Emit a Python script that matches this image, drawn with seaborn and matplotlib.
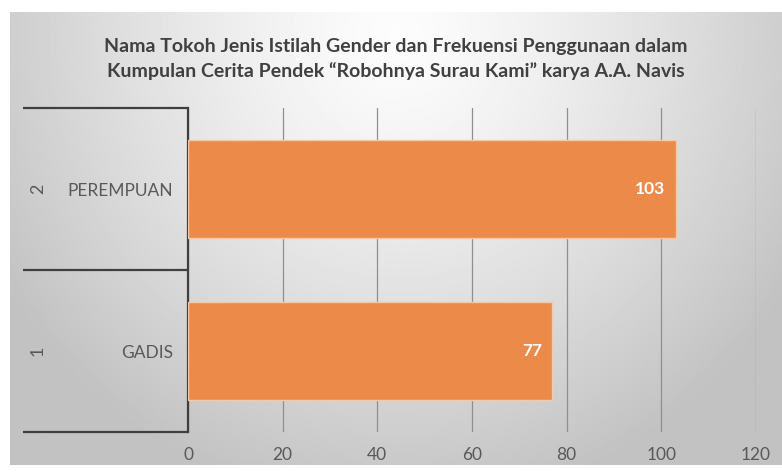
import numpy as np
import pandas as pd
import matplotlib
matplotlib.use("Agg")
import matplotlib.pyplot as plt
import seaborn as sns

categories = ["PEREMPUAN", "GADIS"]
outer_labels = ["2", "1"]
values = [103, 77]
xticks = [0, 20, 40, 60, 80, 100, 120]
title = ("Nama Tokoh Jenis Istilah Gender dan Frekuensi Penggunaan dalam\n"
         "Kumpulan Cerita Pendek \u201cRobohnya Surau Kami\u201d karya A.A. Navis")

sns.set_theme(style="white")
plt.rcParams["font.family"] = ["Lato", "DejaVu Sans"]

W, H = 782, 475
fig = plt.figure(figsize=(W / 100, H / 100), dpi=100)
fig.patch.set_facecolor("white")

# background gradient panel
bx0, by0, bx1, by1 = 10, 12, 782, 465
bg = fig.add_axes([bx0 / W, (H - by1) / H, (bx1 - bx0) / W, (by1 - by0) / H], zorder=-5)
ny, nx = 300, 500
yy, xx = np.mgrid[0:ny, 0:nx]
cx, cy = nx * 0.5, ny * 0.05
d = np.sqrt(((xx - cx) / (nx * 0.6)) ** 2 + ((yy - cy) / (ny * 1.05)) ** 2)
d = np.clip(d, 0, 1)
light, dark = 0.99, 0.76
img = light - (light - dark) * d ** 1.3
bg.imshow(img, cmap="gray", vmin=0, vmax=1, aspect="auto", extent=[0, 1, 0, 1], origin="upper")
bg.axis("off")

# main axes
ax_l, ax_r, ax_t, ax_b = 188, 756, 108, 432
ax = fig.add_axes([ax_l / W, (H - ax_b) / H, (ax_r - ax_l) / W, (ax_b - ax_t) / H])
ax.set_facecolor("none")

df = pd.DataFrame({"cat": categories, "val": values})
sns.barplot(data=df, x="val", y="cat", orient="h", color="#EC8A4A", saturation=1,
            width=0.6, edgecolor="#F6C9A6", linewidth=1.0, ax=ax, zorder=3)

ax.set_xlim(0, 120)
ax.set_ylim(1.5, -0.5)
ax.set_xticks(xticks)
ax.set_xticklabels([str(t) for t in xticks])
ax.set_xlabel("")
ax.set_ylabel("")
ax.grid(axis="x", color="#8f8f8f", linewidth=0.9, zorder=0)
ax.set_axisbelow(True)
for s in ["top", "right", "bottom"]:
    ax.spines[s].set_visible(False)
ax.spines["left"].set_color("#3f3f3f")
ax.spines["left"].set_linewidth(1.6)
ax.tick_params(axis="both", length=0, colors="#595959", labelsize=12.5)
ax.tick_params(axis="x", pad=11)
ax.tick_params(axis="y", pad=11)

# value labels
for p, v in zip(ax.patches, values):
    ax.text(p.get_width() - 2.2, p.get_y() + p.get_height() / 2, str(v),
            ha="right", va="center", color="white", fontweight="bold", fontsize=12.5, zorder=5)

# multi-level category bracket
xl = (23 - ax_l) / (ax_r - ax_l)
for yv in [1.0, 0.5, 0.0]:
    ax.plot([xl, 0], [yv, yv], transform=ax.transAxes, color="#3f3f3f", lw=1.6,
            clip_on=False, solid_capstyle="butt")
xo = (38 - ax_l) / (ax_r - ax_l)
for lab, yv in zip(outer_labels, [0.75, 0.25]):
    ax.text(xo, yv, lab, transform=ax.transAxes, rotation=90, ha="center", va="center",
            color="#595959", fontsize=13)

fig.text(0.5 * (bx0 + bx1) / W, 1 - 59 / H, title, ha="center", va="center",
         fontsize=14, fontweight="bold", color="#404040", linespacing=1.5)

fig.savefig("out.png", dpi=100)
